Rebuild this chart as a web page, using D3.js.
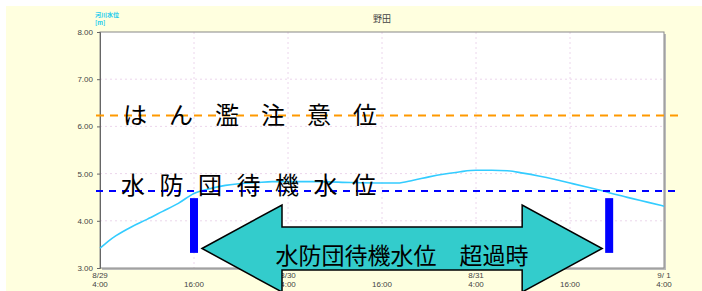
<!DOCTYPE html>
<html>
<head>
<meta charset="utf-8">
<script src="https://cdn.jsdelivr.net/npm/d3@7"></script>
<style>
  body { margin: 0; background: #fff; }
  svg { display: block; }
</style>
</head>
<body>
<script>
// hours since 8/29 4:00 and river level [m]
const hours = [0, 1, 2, 3, 4, 6, 8, 10, 12, 14, 16, 18, 20, 22, 24, 28, 32, 36, 38, 40, 42, 44, 46, 48, 50, 52, 54, 56, 58, 60, 62, 64, 66, 68, 70, 72]
const levels = [3.42, 3.56, 3.68, 3.78, 3.87, 4.03, 4.20, 4.37, 4.58, 4.68, 4.75, 4.79, 4.81, 4.83, 4.83, 4.83, 4.81, 4.80, 4.80, 4.86, 4.93, 4.99, 5.04, 5.07, 5.07, 5.06, 5.01, 4.95, 4.88, 4.80, 4.72, 4.64, 4.55, 4.47, 4.39, 4.31]
const yTicks = [3, 4, 5, 6, 7, 8]
const xTicks = [0, 12, 24, 36, 48, 60, 72]
const dateLabels = ['8/29', '', '8/30', '', '8/31', '', '9/ 1']
const timeLabels = ['4:00', '16:00', '4:00', '16:00', '4:00', '16:00', '4:00']
const cautionLevel = 6.23
const standbyLevel = 4.63
const crossHours = [12, 65]
const barRange = [3.32, 4.48]

const width = 702
const height = 291
const pLeft = 100
const pRight = 664
const pTop = 32
const pBottom = 268

const svg = d3.select('body')
  .append('svg')
  .attr('width', width)
  .attr('height', height)

const x = d3.scaleLinear().domain([0, 72]).range([pLeft, pRight])
const y = d3.scaleLinear().domain([3, 8]).range([pBottom, pTop])

svg.append('rect')
  .attr('x', 6).attr('y', 6)
  .attr('width', width - 6).attr('height', height - 6)
  .attr('fill', '#ffffdf')

// plot shadow + plot area
svg.append('rect')
  .attr('x', pLeft + 2).attr('y', pTop + 2)
  .attr('width', pRight - pLeft).attr('height', pBottom - pTop)
  .attr('fill', '#bbb')
svg.append('rect')
  .attr('x', pLeft).attr('y', pTop)
  .attr('width', pRight - pLeft).attr('height', pBottom - pTop)
  .attr('fill', '#fff')

// grid
svg.selectAll('.hgrid')
  .data(yTicks.slice(1, -1))
  .enter()
  .append('line')
  .attr('x1', pLeft).attr('x2', pRight)
  .attr('y1', d => y(d)).attr('y2', d => y(d))
  .attr('stroke', '#ecd6ec')
  .attr('stroke-dasharray', '2,3')
svg.selectAll('.vgrid')
  .data(xTicks.slice(1, -1))
  .enter()
  .append('line')
  .attr('x1', d => x(d)).attr('x2', d => x(d))
  .attr('y1', pTop).attr('y2', pBottom)
  .attr('stroke', '#ecd6ec')
  .attr('stroke-dasharray', '2,3')

svg.append('rect')
  .attr('x', pLeft).attr('y', pTop)
  .attr('width', pRight - pLeft).attr('height', pBottom - pTop)
  .attr('fill', 'none')
  .attr('stroke', '#888')

// y axis
const yAxis = svg.append('g')
  .attr('transform', 'translate(' + pLeft + ',0)')
  .call(d3.axisLeft(y).tickValues(yTicks).tickFormat(d3.format('.2f')).tickSize(3))
yAxis.select('.domain').attr('stroke', '#666')
yAxis.selectAll('line').attr('stroke', '#666')
yAxis.selectAll('text')
  .attr('font-size', 8)
  .attr('font-family', 'Liberation Sans, Arial, sans-serif')
  .attr('fill', '#444')
  .attr('dx', '-1')

// x labels
const xl = svg.selectAll('.xl')
  .data(xTicks)
  .enter()
  .append('text')
  .attr('x', d => x(d))
  .attr('text-anchor', 'middle')
  .attr('font-size', 8)
  .attr('font-family', 'Liberation Sans, Arial, sans-serif')
  .attr('fill', '#444')
xl.append('tspan').attr('x', d => x(d)).attr('y', 278).text((d, i) => dateLabels[i])
xl.append('tspan').attr('x', d => x(d)).attr('y', 287).text((d, i) => timeLabels[i])

// title + y label
svg.append('text')
  .attr('x', (pLeft + pRight) / 2).attr('y', 22)
  .attr('text-anchor', 'middle')
  .attr('font-size', 9)
  .attr('font-family', 'Noto Sans CJK JP, sans-serif')
  .attr('fill', '#444')
  .text('野田')
svg.append('text')
  .attr('x', 95).attr('y', 17)
  .attr('font-size', 6)
  .attr('font-weight', 'bold')
  .attr('font-family', 'Noto Sans CJK JP, sans-serif')
  .attr('fill', '#22ccee')
  .text('河川水位')
svg.append('text')
  .attr('x', 95).attr('y', 25)
  .attr('font-size', 6)
  .attr('font-weight', 'bold')
  .attr('font-family', 'Noto Sans CJK JP, sans-serif')
  .attr('fill', '#22ccee')
  .text('[m]')

// water level curve
const line = d3.line()
  .x((d, i) => x(hours[i]))
  .y(d => y(d))
  .curve(d3.curveMonotoneX)
svg.append('path')
  .datum(levels)
  .attr('d', line)
  .attr('fill', 'none')
  .attr('stroke', '#33ccff')
  .attr('stroke-width', 1.6)

// threshold lines
svg.append('line')
  .attr('x1', pLeft - 4).attr('x2', 680)
  .attr('y1', y(cautionLevel)).attr('y2', y(cautionLevel))
  .attr('stroke', '#ff9900')
  .attr('stroke-width', 2)
  .attr('stroke-dasharray', '8,6')
svg.append('line')
  .attr('x1', pLeft - 4).attr('x2', 680)
  .attr('y1', y(standbyLevel)).attr('y2', y(standbyLevel))
  .attr('stroke', '#0000ff')
  .attr('stroke-width', 2)
  .attr('stroke-dasharray', '7,6')

svg.append('text')
  .attr('x', 123).attr('y', 124)
  .attr('font-size', 24)
  .attr('letter-spacing', 22)
  .attr('font-family', 'Noto Sans CJK JP, sans-serif')
  .attr('fill', '#000')
  .text('はん濫注意位')
svg.append('text')
  .attr('x', 121).attr('y', 194)
  .attr('font-size', 24)
  .attr('letter-spacing', 14.5)
  .attr('font-family', 'Noto Sans CJK JP, sans-serif')
  .attr('fill', '#000')
  .text('水防団待機水位')

// crossing bars
svg.selectAll('.bar')
  .data(crossHours)
  .enter()
  .append('rect')
  .attr('x', d => x(d) - 4)
  .attr('y', y(barRange[1]))
  .attr('width', 8)
  .attr('height', y(barRange[0]) - y(barRange[1]))
  .attr('fill', '#0000ff')

// double arrow between crossings
const ax0 = x(crossHours[0]) + 8
const ax1 = x(crossHours[1]) - 7
const cy = 248.5
const head = 80
const bodyH = 21.5
const headH = 43.5
const pts = [
  [ax0, cy], [ax0 + head, cy - headH], [ax0 + head, cy - bodyH],
  [ax1 - head, cy - bodyH], [ax1 - head, cy - headH], [ax1, cy],
  [ax1 - head, cy + headH], [ax1 - head, cy + bodyH],
  [ax0 + head, cy + bodyH], [ax0 + head, cy + headH]
]
svg.append('polygon')
  .attr('points', pts.map(p => p.join(',')).join(' '))
  .attr('fill', '#33cccc')
  .attr('stroke', '#000')
  .attr('stroke-width', 1.5)
svg.append('text')
  .attr('x', (ax0 + ax1) / 2).attr('y', 264)
  .attr('text-anchor', 'middle')
  .attr('font-size', 23)
  .attr('font-family', 'Noto Sans CJK JP, sans-serif')
  .attr('fill', '#000')
  .text('水防団待機水位　超過時')
</script>
</body>
</html>
